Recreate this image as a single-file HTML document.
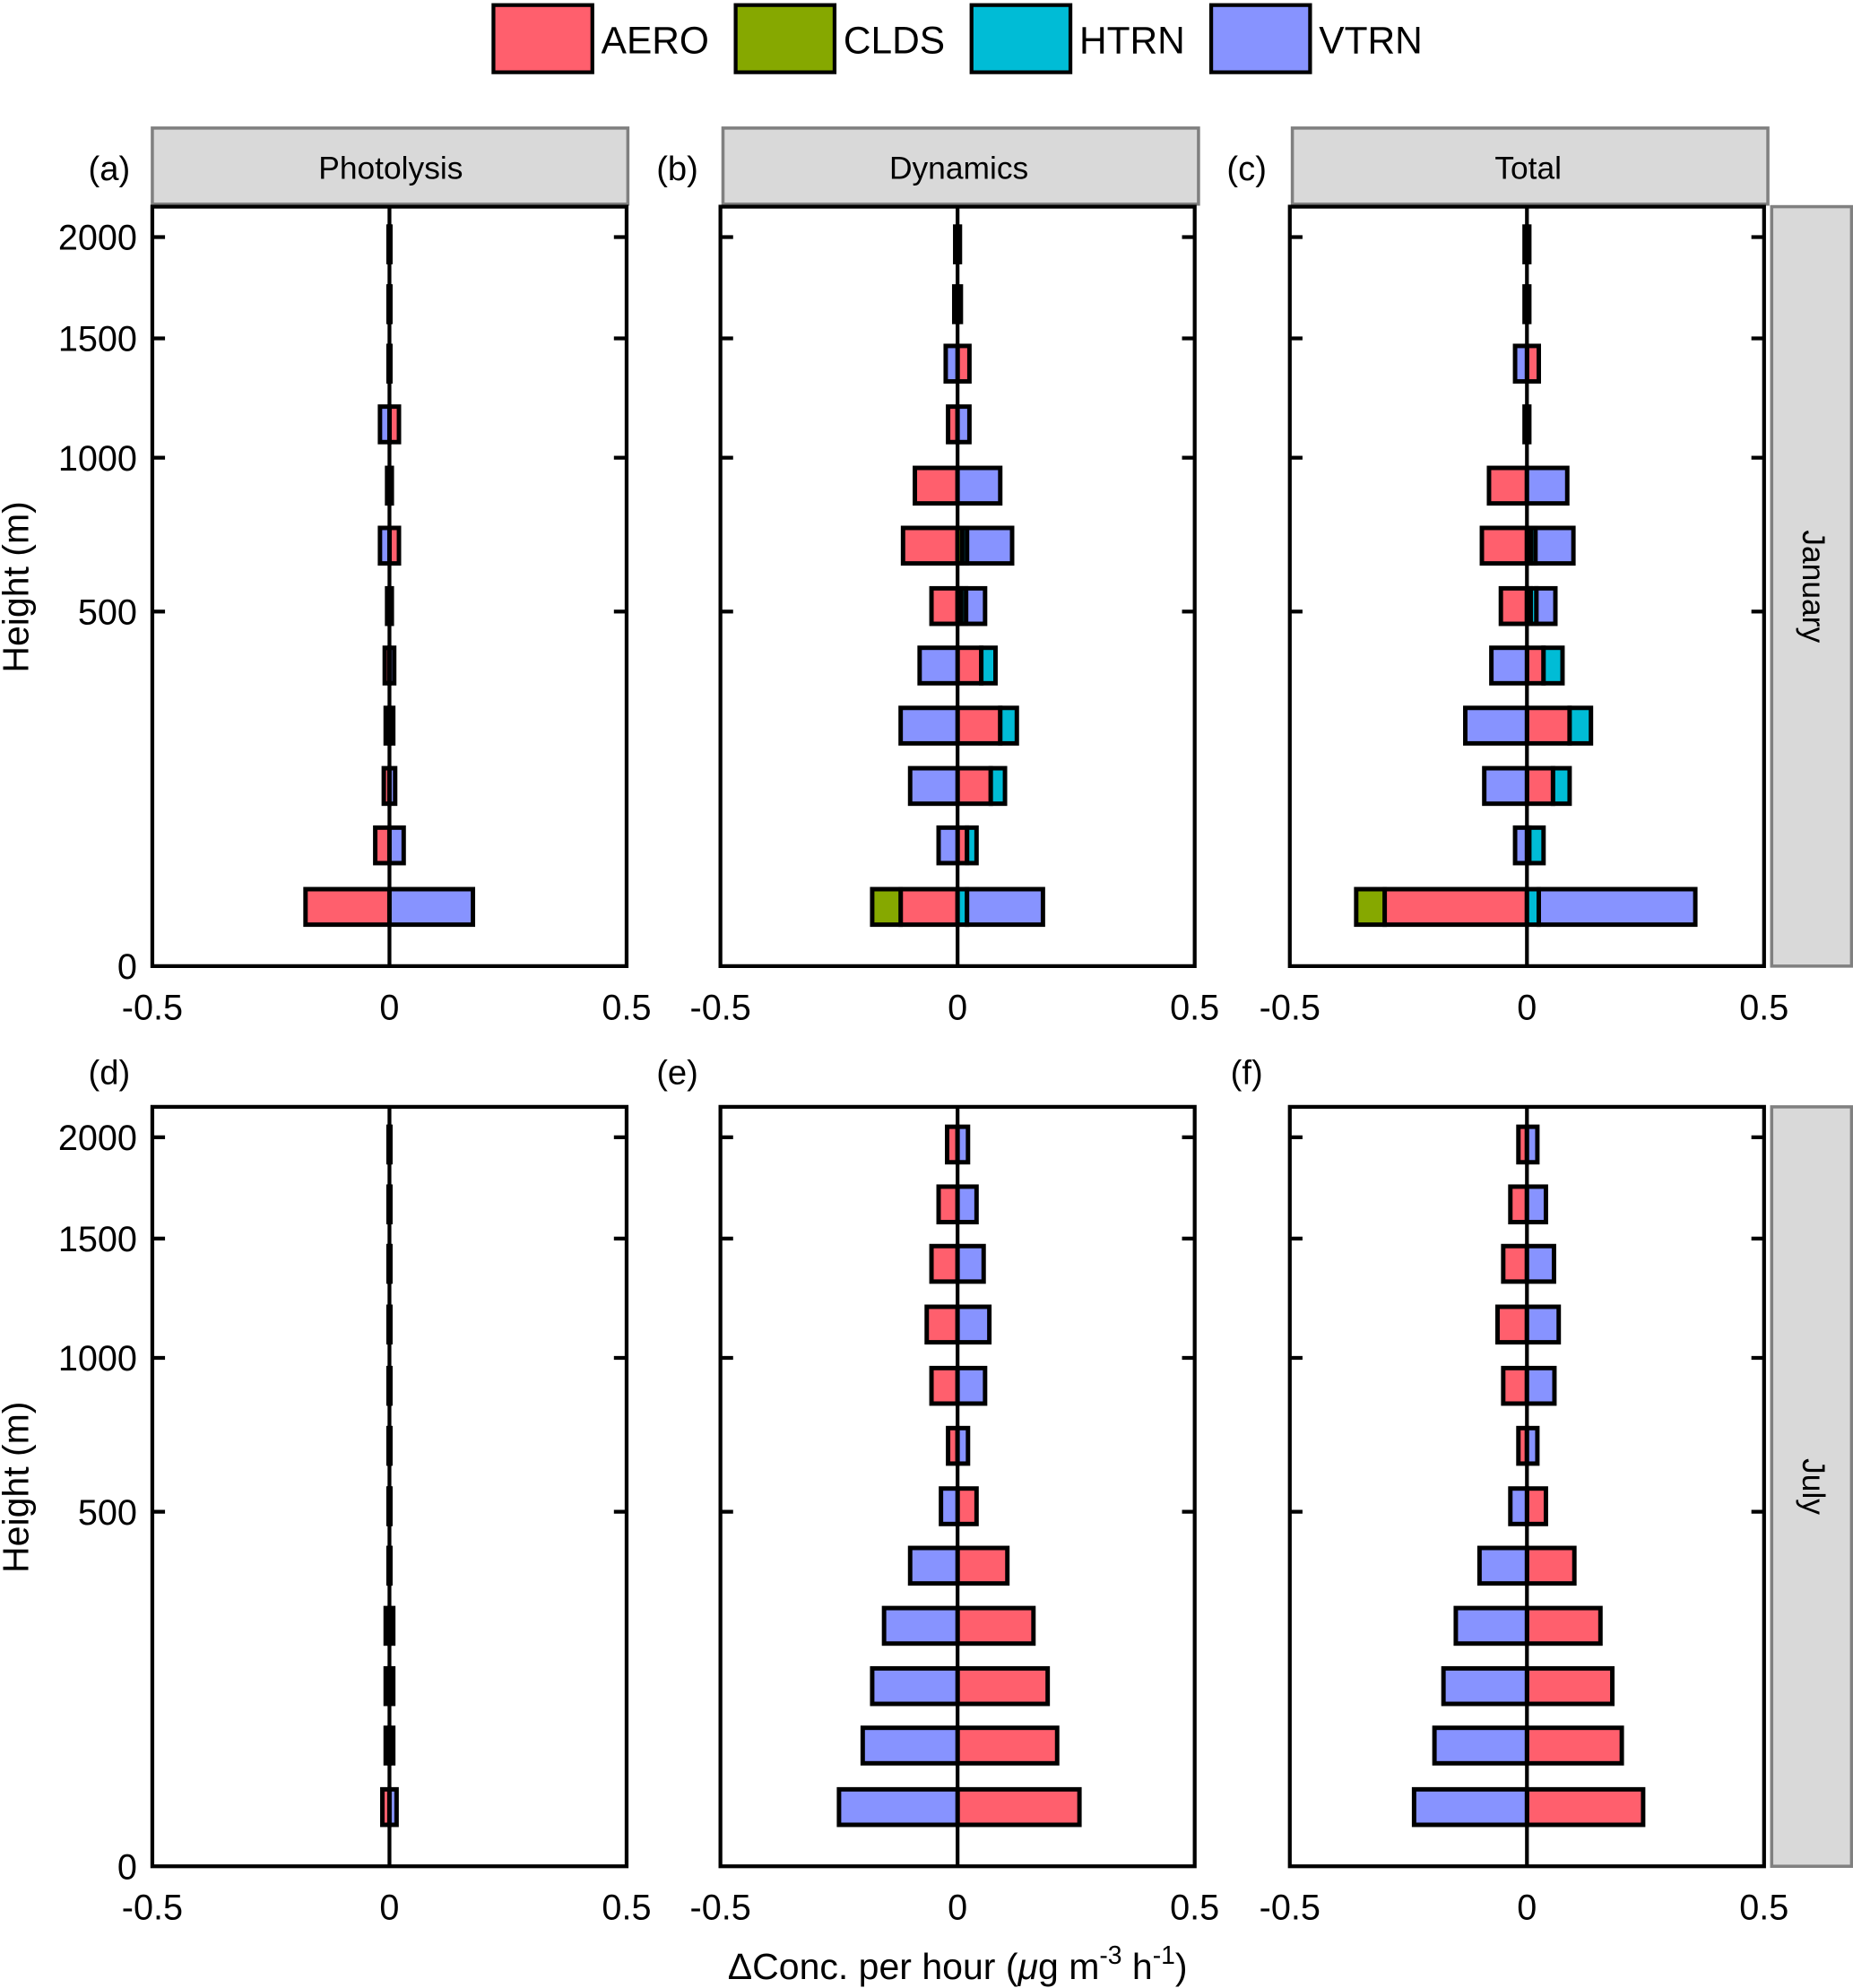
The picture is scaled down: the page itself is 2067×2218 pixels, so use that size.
<!DOCTYPE html>
<html><head><meta charset="utf-8"><style>
html,body{margin:0;padding:0;background:#fff;}
svg{display:block;font-family:"Liberation Sans",Arial,sans-serif;}
</style></head><body>
<svg id="chart" width="2067" height="2218" viewBox="0 0 1461 1568" xmlns="http://www.w3.org/2000/svg"></svg>
<script>
const heights = [16,63,136,237,364,515,694,897,1130,1386,1661,1962];
const series = ["AERO","CLDS","HTRN","VTRN"];
const colors = {AERO:"#FF5F6D",CLDS:"#86A800",HTRN:"#00BCD6",VTRN:"#8793FF"};
const yTicks = [0,500,1000,1500,2000];
const xTicks = [-0.5,0,0.5];
const xTickLabels = ["-0.5","0","0.5"];
// January photolysis
const aAERO = [-0.177,-0.03,-0.012,-0.008,-0.01,-0.005,0.02,-0.005,0.02,-0.002,-0.002,-0.002];
const aCLDS = [0,0,0,0,0,0,0,0,0,0,0,0];
const aHTRN = [0,0,0,0,0,0,0,0,0,0,0,0];
const aVTRN = [0.176,0.03,0.012,0.008,0.01,0.005,-0.02,0.005,-0.02,0.002,0.002,0.002];
// January dynamics
const bAERO = [-0.12,0.02,0.07,0.09,0.05,-0.055,-0.115,-0.09,-0.02,0.025,-0.007,-0.005];
const bCLDS = [-0.06,0,0,0,0,0.008,0.01,0,0,0,0,0];
const bHTRN = [0.02,0.02,0.03,0.035,0.03,0.01,0.01,0,0,0,0,0];
const bVTRN = [0.16,-0.04,-0.1,-0.12,-0.08,0.04,0.095,0.09,0.025,-0.025,0.007,0.005];
// January total
const cAERO = [-0.3,0.005,0.055,0.09,0.035,-0.055,-0.095,-0.08,-0.005,0.025,-0.005,-0.005];
const cCLDS = [-0.06,0,0,0,0,0.008,0.008,0,0,0,0,0];
const cHTRN = [0.025,0.03,0.035,0.045,0.04,0.012,0.01,0,0,0,0,0];
const cVTRN = [0.33,-0.025,-0.09,-0.13,-0.075,0.04,0.08,0.085,0.005,-0.025,0.005,0.005];
// July photolysis
const dAERO = [-0.015,-0.008,-0.008,-0.008,-0.002,-0.002,-0.002,-0.002,-0.002,-0.002,-0.002,-0.002];
const dCLDS = [0,0,0,0,0,0,0,0,0,0,0,0];
const dHTRN = [0,0,0,0,0,0,0,0,0,0,0,0];
const dVTRN = [0.015,0.008,0.008,0.008,0.002,0.002,0.002,0.002,0.002,0.002,0.002,0.002];
// July dynamics
const eAERO = [0.257,0.21,0.19,0.16,0.105,0.04,-0.02,-0.055,-0.065,-0.055,-0.04,-0.022];
const eCLDS = [0,0,0,0,0,0,0,0,0,0,0,0];
const eHTRN = [0,0,0,0,0,0,0,0,0,0,0,0];
const eVTRN = [-0.25,-0.2,-0.18,-0.155,-0.1,-0.035,0.022,0.058,0.067,0.055,0.04,0.022];
// July total
const fAERO = [0.245,0.2,0.18,0.155,0.1,0.04,-0.018,-0.05,-0.062,-0.05,-0.035,-0.018];
const fCLDS = [0,0,0,0,0,0,0,0,0,0,0,0];
const fHTRN = [0,0,0,0,0,0,0,0,0,0,0,0];
const fVTRN = [-0.238,-0.195,-0.176,-0.15,-0.1,-0.035,0.022,0.058,0.067,0.057,0.04,0.022];

const NS="http://www.w3.org/2000/svg";
const svg=document.getElementById('chart');
function mk(tag,attrs,parent){const e=document.createElementNS(NS,tag);for(const k in attrs)e.setAttribute(k,attrs[k]);(parent||svg).appendChild(e);return e;}
function txt(s,attrs,parent){const e=mk('text',attrs,parent);e.textContent=s;return e;}

// legend
const legX=[389,580,766,955];
series.forEach((s,i)=>{
  const g=mk('g',{});
  
  
  mk('rect',{x:legX[i],y:4,width:78,height:53,fill:colors[s],stroke:'#000','stroke-width':3},g);
  txt(s,{x:legX[i]+85,y:42,'font-size':30,fill:'#000'},g);
});

const cols=[{x0:120,lab:['(a)','(d)'],title:'Photolysis'},{x0:568,lab:['(b)','(e)'],title:'Dynamics'},{x0:1017,lab:['(c)','(f)'],title:'Total'}];
const rows=[{y0:163,month:'January'},{y0:873,month:'July'}];
const W=374,H=599;
const P=0.52;
const panelData=[[[aAERO,aCLDS,aHTRN,aVTRN],[bAERO,bCLDS,bHTRN,bVTRN],[cAERO,cCLDS,cHTRN,cVTRN]],
                 [[dAERO,dCLDS,dHTRN,dVTRN],[eAERO,eCLDS,eHTRN,eVTRN],[fAERO,fCLDS,fHTRN,fVTRN]]];
const panelNames=[['a','b','c'],['d','e','f']];

rows.forEach((r,ri)=>{
  cols.forEach((c,ci)=>{
    const g=mk('g',{});
    
    
    const xs=v=>c.x0+W/2+v*W;
    const ys=h=>r.y0+H-575*Math.pow(h/2000,P);
    if(ri===0){
      const st=mk('rect',{x:c.x0+(ci===0?0:2),y:101,width:375,height:60,fill:'#d9d9d9',stroke:'#808080','stroke-width':2.5},g);
      
      
      txt(c.title,{x:c.x0+188,y:141,'font-size':25,'text-anchor':'middle'},g);
    }
    txt(c.lab[ri],{x:c.x0-34,y:(ri===0?142:855),'font-size':27,'text-anchor':'middle'},g);
    mk('line',{x1:xs(0),x2:xs(0),y1:r.y0,y2:r.y0+H,stroke:'#000','stroke-width':3},g);
    const data=panelData[ri][ci];
    heights.forEach((h,k)=>{
      const yc=ys(h);
      let pos=0,neg=0;
      series.forEach((s,si)=>{
        const v=data[si][k];
        if(v===0)return;
        let a,b;
        if(v>0){a=pos;b=pos+v;pos=b;}else{a=neg+v;b=neg;neg=a;}
        const rr=mk('rect',{x:xs(a),y:yc-14,width:Math.max(0.5,xs(b)-xs(a)),height:28,fill:colors[s],stroke:'#000','stroke-width':3.5},g);
        
        
      });
    });
    mk('rect',{x:c.x0,y:r.y0,width:W,height:H,fill:'none',stroke:'#000','stroke-width':3},g);
    yTicks.forEach(t=>{
      const y=ys(t);
      if(t>0){
        mk('line',{x1:c.x0,x2:c.x0+10,y1:y,y2:y,stroke:'#000','stroke-width':3},g);
        mk('line',{x1:c.x0+W-10,x2:c.x0+W,y1:y,y2:y,stroke:'#000','stroke-width':3},g);
      }
      if(ci===0){txt(String(t),{x:108,y:y+10,'font-size':28,'text-anchor':'end'},g);}
    });
    xTicks.forEach((t,i)=>{
      txt(xTickLabels[i],{x:xs(t),y:r.y0+H+42,'font-size':28,'text-anchor':'middle'},g);
    });
  });
  const rs=mk('rect',{x:1397,y:r.y0,width:63,height:H,fill:'#d9d9d9',stroke:'#808080','stroke-width':2.5});
  
  
  const mt=txt(r.month,{x:1428,y:r.y0+H/2,'font-size':25,'text-anchor':'middle',transform:'rotate(90 1428 '+(r.y0+H/2)+')','dominant-baseline':'middle'});
  
  
  const yt=txt('Height (m)',{x:0,y:0,'font-size':29,'text-anchor':'middle',transform:'translate(22 '+(r.y0+300)+') rotate(-90)'});
  
  
});
const xt=mk('text',{x:755,y:1561,'font-size':29,'text-anchor':'middle'});


xt.innerHTML='ΔConc. per hour (<tspan font-style="italic">μ</tspan>g m<tspan dy="-12" font-size="20">-3</tspan><tspan dy="12"> h</tspan><tspan dy="-12" font-size="20">-1</tspan><tspan dy="12">)</tspan>';
</script>
</body></html>
